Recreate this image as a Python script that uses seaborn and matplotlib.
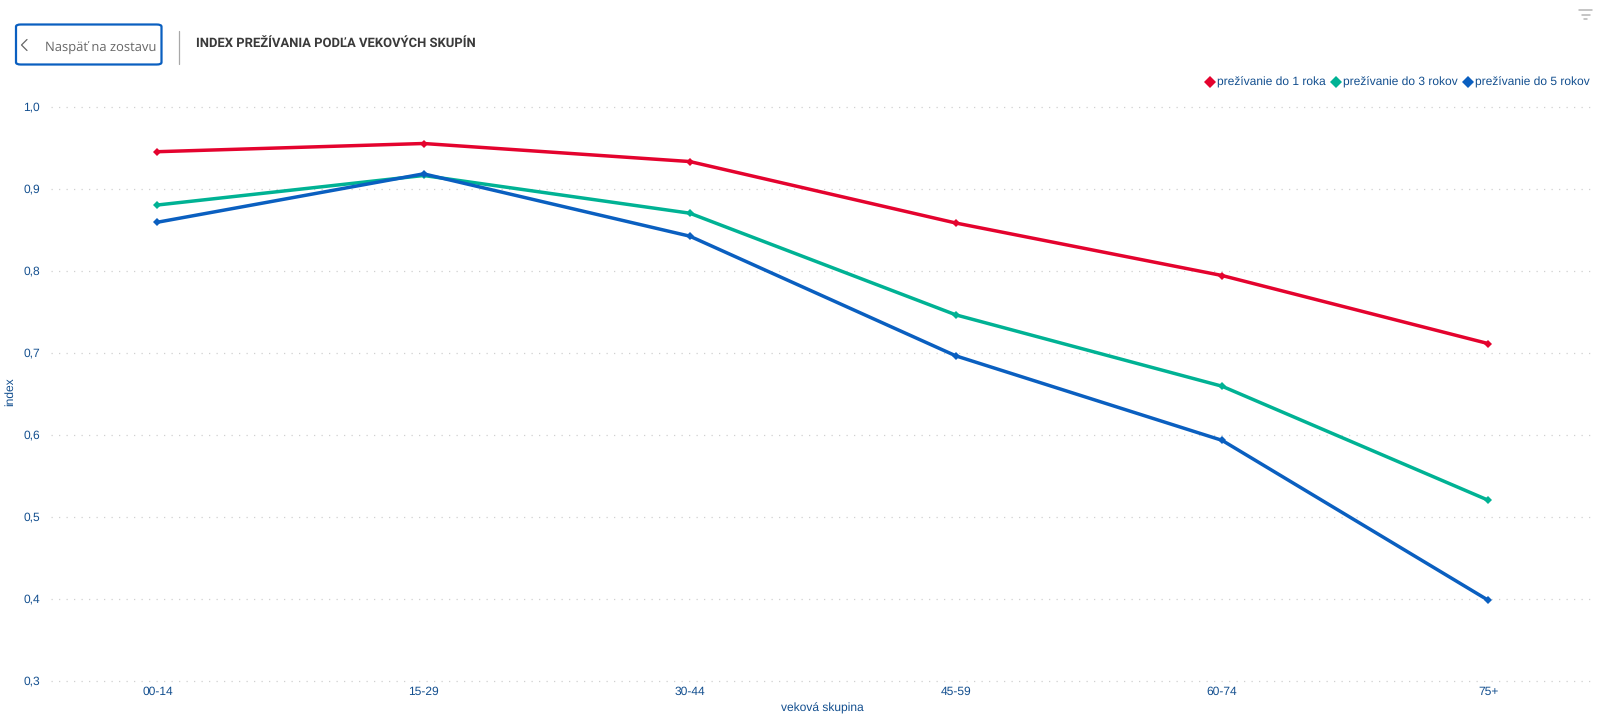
import matplotlib
matplotlib.use("Agg")
import matplotlib.pyplot as plt
from matplotlib.lines import Line2D
from matplotlib.patches import FancyBboxPatch
import pandas as pd
import seaborn as sns

# values
age_groups = ["00-14", "15-29", "30-44", "45-59", "60-74", "75+"]
survival_1y = [0.945, 0.955, 0.933, 0.858, 0.794, 0.711]
survival_3y = [0.880, 0.916, 0.870, 0.746, 0.659, 0.520]
survival_5y = [0.859, 0.918, 0.842, 0.696, 0.593, 0.398]
series_names = ["prežívanie do 1 roka", "prežívanie do 3 rokov", "prežívanie do 5 rokov"]
y_ticks = [0.3, 0.4, 0.5, 0.6, 0.7, 0.8, 0.9, 1.0]
title = "INDEX PREŽÍVANIA PODĽA VEKOVÝCH SKUPÍN"
back_label = "Naspäť na zostavu"

colors = ["#e4032e", "#00b294", "#0a5fc0"]
TEXT = "#134f8f"
W, H = 1600, 717

sns.set_theme(style="white")
plt.rcParams["font.family"] = ["Liberation Sans", "DejaVu Sans"]
plt.rcParams["text.hinting"] = "no_hinting"
plt.rcParams["text.hinting_factor"] = 1

df = pd.DataFrame({
    "group": age_groups * 3,
    "value": survival_1y + survival_3y + survival_5y,
    "series": [s for s in series_names for _ in age_groups],
})

fig = plt.figure(figsize=(W / 100, H / 100), dpi=100)
ax = fig.add_axes([51 / W, 1 - 680.6 / H, (1592 - 51) / W, (680.6 - 106.6) / H])

sns.lineplot(data=df, x="group", y="value", hue="series", palette=colors,
             marker="D", markersize=4.5, markeredgewidth=0, linewidth=2.5,
             sort=False, errorbar=None, legend=False, ax=ax)

ax.set_xlim(-0.4, 5.39)
ax.set_ylim(0.3, 1.0)
ax.set_yticks(y_ticks)
ax.set_yticklabels([f"{t:.1f}".replace(".", ",") for t in y_ticks])
ax.grid(axis="y", color="#d0d0d0", linestyle=(0, (1, 5)), linewidth=0.9)
ax.set_axisbelow(True)
for line in ax.get_ygridlines():
    line.set_clip_on(False)
for side in ax.spines:
    ax.spines[side].set_visible(False)
ax.tick_params(axis="y", length=0, pad=8, labelsize=8.8, labelcolor=TEXT)
ax.tick_params(axis="x", length=0, pad=4, labelsize=8.3, labelcolor=TEXT)
ax.set_xlabel("")
ax.set_ylabel("")
fig.text(822.5 / W, 1 - 708 / H, "veková skupina", color=TEXT, fontsize=8.3,
         ha="center", va="center")
fig.text(10 / W, 1 - 392 / H, "index", color=TEXT, fontsize=8.3, rotation=90,
         ha="center", va="center")

# legend in the top right corner
handles = [Line2D([], [], linestyle="none", marker="D", markersize=6.2,
                  markeredgewidth=0, color=c) for c in colors]
fig.legend(handles, series_names, loc="center right", ncol=3,
           bbox_to_anchor=(1590 / W, 1 - 82.7 / H), frameon=False, fontsize=8.4,
           labelcolor=TEXT, handletextpad=0.1, columnspacing=0.38,
           handlelength=1.0, borderpad=0, borderaxespad=0)

# back button and title bar
fig.add_artist(FancyBboxPatch((16 / W, 1 - 64.5 / H), 145.5 / W, 40 / H,
                              boxstyle="round,pad=0,rounding_size=0.003",
                              transform=fig.transFigure, facecolor="white",
                              edgecolor="#0a5fc0", linewidth=1.6))
fig.add_artist(Line2D([27 / W, 21.5 / W, 27 / W],
                      [1 - 39.5 / H, 1 - 45 / H, 1 - 50.5 / H],
                      color="#666666", linewidth=0.9))
fig.text(101 / W, 1 - 47.5 / H, back_label, color="#666666", fontsize=9.2,
         family="Open Sans", ha="center", va="center")
fig.add_artist(Line2D([178.5 / W, 178.5 / W], [1 - 31 / H, 1 - 63.5 / H],
                      color="#a8a8a8", linewidth=0.9))
fig.text(196.5 / W, 1 - 43 / H, title, color="#3a3a3a", fontsize=9.05,
         family="Roboto", fontweight="bold", ha="left", va="center")

# filter icon
for x0, x1, y in [(1579, 1592, 10), (1581.5, 1589.5, 14.5), (1584, 1587, 19)]:
    fig.add_artist(Line2D([x0 / W, x1 / W], [1 - y / H, 1 - y / H],
                          color="#b5b5b5", linewidth=1.1))

fig.savefig("out.png", dpi=100, facecolor="white")
